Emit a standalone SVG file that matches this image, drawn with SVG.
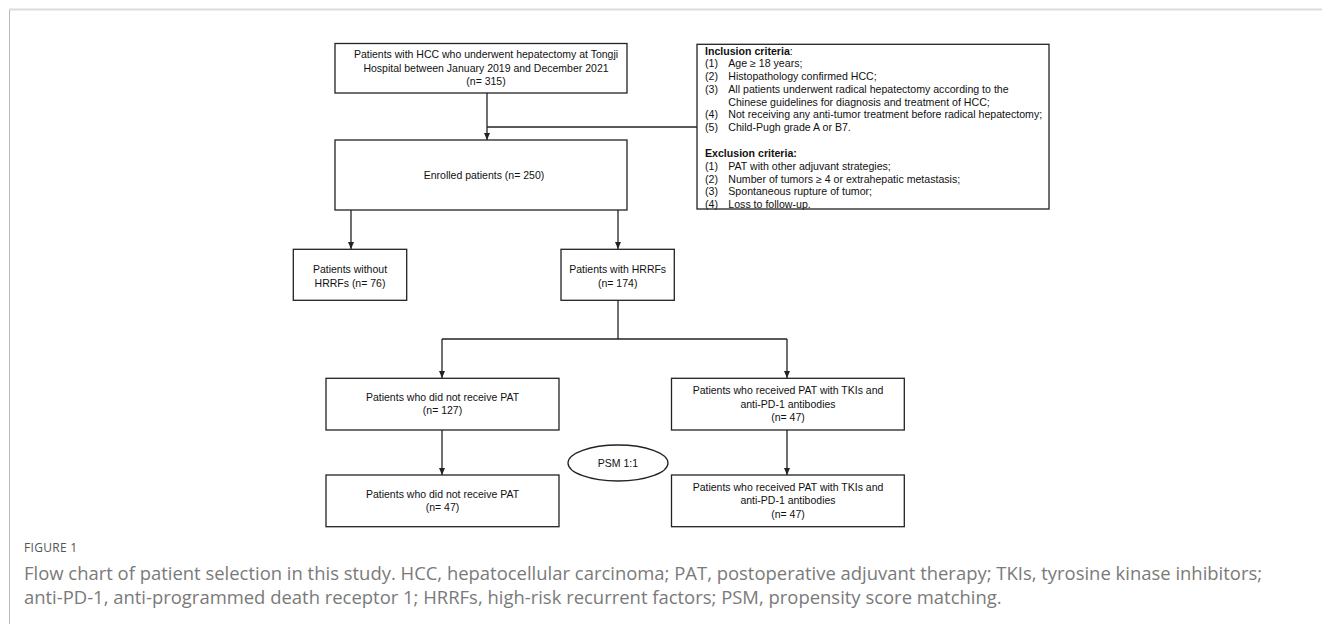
<svg xmlns="http://www.w3.org/2000/svg" width="1322" height="624" viewBox="0 0 1322 624">
<style>
.box{fill:#fff;stroke:#222;stroke-width:1.3}
.t{font-family:"Liberation Sans",Arial,sans-serif;font-size:10.5px;fill:#111;text-anchor:middle}
.c{font-family:"Liberation Sans",Arial,sans-serif;font-size:10.6px;fill:#111}
.b{font-weight:bold}
.ln{stroke:#222;stroke-width:1.3;fill:none}
.cap{font-family:"Open Sans","Liberation Sans",sans-serif;font-size:18.45px;fill:#7a7a7a}
.fig{font-family:"Open Sans","Liberation Sans",sans-serif;font-size:12px;fill:#555}
</style>
<defs>
<marker id="ah" markerWidth="7" markerHeight="6" refX="7" refY="3" orient="auto" markerUnits="userSpaceOnUse">
<path d="M0,0 L7,3 L0,6 z" fill="#222"/>
</marker>
</defs>
<rect width="1322" height="624" fill="#fff"/>
<g id="frame">
<line x1="9" y1="9.5" x2="1322" y2="9.5" stroke="#dcdcdc" stroke-width="2"/>
<line x1="9.5" y1="10" x2="9.5" y2="624" stroke="#bdbdbd" stroke-width="1"/>
</g>
<g id="connectors">
<line class="ln" x1="487" y1="93" x2="487" y2="140" marker-end="url(#ah)"/>
<line class="ln" x1="487" y1="127" x2="697" y2="127"/>
<line class="ln" x1="351" y1="210" x2="351" y2="249" marker-end="url(#ah)"/>
<line class="ln" x1="618" y1="210" x2="618" y2="249" marker-end="url(#ah)"/>
<line class="ln" x1="618" y1="300" x2="618" y2="339"/>
<line class="ln" x1="442" y1="339" x2="787" y2="339"/>
<line class="ln" x1="442" y1="339" x2="442" y2="378" marker-end="url(#ah)"/>
<line class="ln" x1="787" y1="339" x2="787" y2="378" marker-end="url(#ah)"/>
<line class="ln" x1="442" y1="430" x2="442" y2="475" marker-end="url(#ah)"/>
<line class="ln" x1="787" y1="430" x2="787" y2="475" marker-end="url(#ah)"/>
</g>
<g id="n_top">
<rect class="box" x="335" y="43.5" width="292" height="49.5"/>
<text class="t" x="486" y="58.4">Patients with HCC who underwent hepatectomy at Tongji</text>
<text class="t" x="486" y="71.8">Hospital between January 2019 and December 2021</text>
<text class="t" x="486" y="85.2">(n= 315)</text>
</g>
<g id="n_criteria">
<rect class="box" x="697" y="44.3" width="352" height="164.7"/>
<text class="c" x="705" y="54.7"><tspan class="b">Inclusion criteria</tspan>:</text>
<text class="c" x="705" y="67.4">(1)</text><text class="c" x="728.3" y="67.4">Age ≥ 18 years;</text>
<text class="c" x="705" y="80.1">(2)</text><text class="c" x="728.3" y="80.1">Histopathology confirmed HCC;</text>
<text class="c" x="705" y="92.8">(3)</text><text class="c" x="728.3" y="92.8">All patients underwent radical hepatectomy according to the</text>
<text class="c" x="728.3" y="105.5">Chinese guidelines for diagnosis and treatment of HCC;</text>
<text class="c" x="705" y="118.2">(4)</text><text class="c" x="728.3" y="118.2">Not receiving any anti-tumor treatment before radical hepatectomy;</text>
<text class="c" x="705" y="130.9">(5)</text><text class="c" x="728.3" y="130.9">Child-Pugh grade A or B7.</text>
<text class="c b" x="705" y="157.3">Exclusion criteria:</text>
<text class="c" x="705" y="170">(1)</text><text class="c" x="728.3" y="170">PAT with other adjuvant strategies;</text>
<text class="c" x="705" y="182.7">(2)</text><text class="c" x="728.3" y="182.7">Number of tumors ≥ 4 or extrahepatic metastasis;</text>
<text class="c" x="705" y="195.4">(3)</text><text class="c" x="728.3" y="195.4">Spontaneous rupture of tumor;</text>
<text class="c" x="705" y="208.1">(4)</text><text class="c" x="728.3" y="208.1">Loss to follow-up.</text>
</g>
<g id="n_enrolled">
<rect class="box" x="335" y="140" width="292" height="70"/>
<text class="t" x="484" y="178.8">Enrolled patients (n= 250)</text>
</g>
<g id="n_without">
<rect class="box" x="293.3" y="249.3" width="113.4" height="51"/>
<text class="t" x="350" y="273.1">Patients without</text>
<text class="t" x="350" y="286.5">HRRFs (n= 76)</text>
</g>
<g id="n_with">
<rect class="box" x="561" y="249.3" width="113.3" height="51"/>
<text class="t" x="617.7" y="273.1">Patients with HRRFs</text>
<text class="t" x="617.7" y="286.5">(n= 174)</text>
</g>
<g id="n_nopat1">
<rect class="box" x="326" y="378.3" width="233" height="51.7"/>
<text class="t" x="442.5" y="401">Patients who did not receive PAT</text>
<text class="t" x="442.5" y="414.4">(n= 127)</text>
</g>
<g id="n_pat1">
<rect class="box" x="671.5" y="378.3" width="232.8" height="51.7"/>
<text class="t" x="788" y="394.3">Patients who received PAT with TKIs and</text>
<text class="t" x="788" y="407.7">anti-PD-1 antibodies</text>
<text class="t" x="788" y="421.1">(n= 47)</text>
</g>
<g id="n_psm">
<ellipse cx="618" cy="463" rx="50" ry="18" fill="#fff" stroke="#222" stroke-width="1.3"/>
<text class="t" x="618" y="466.8">PSM 1:1</text>
</g>
<g id="n_nopat2">
<rect class="box" x="326" y="475" width="233" height="51.7"/>
<text class="t" x="442.5" y="497.7">Patients who did not receive PAT</text>
<text class="t" x="442.5" y="511.1">(n= 47)</text>
</g>
<g id="n_pat2">
<rect class="box" x="671.5" y="475" width="232.8" height="51.7"/>
<text class="t" x="788" y="491">Patients who received PAT with TKIs and</text>
<text class="t" x="788" y="504.4">anti-PD-1 antibodies</text>
<text class="t" x="788" y="517.8">(n= 47)</text>
</g>
<g id="caption">
<text class="fig" x="24" y="552" letter-spacing="0.3">FIGURE 1</text>
<text class="cap" x="24" y="580">Flow chart of patient selection in this study. HCC, hepatocellular carcinoma; PAT, postoperative adjuvant therapy; TKIs, tyrosine kinase inhibitors;</text>
<text class="cap" x="24" y="604">anti-PD-1, anti-programmed death receptor 1; HRRFs, high-risk recurrent factors; PSM, propensity score matching.</text>
</g>
</svg>
